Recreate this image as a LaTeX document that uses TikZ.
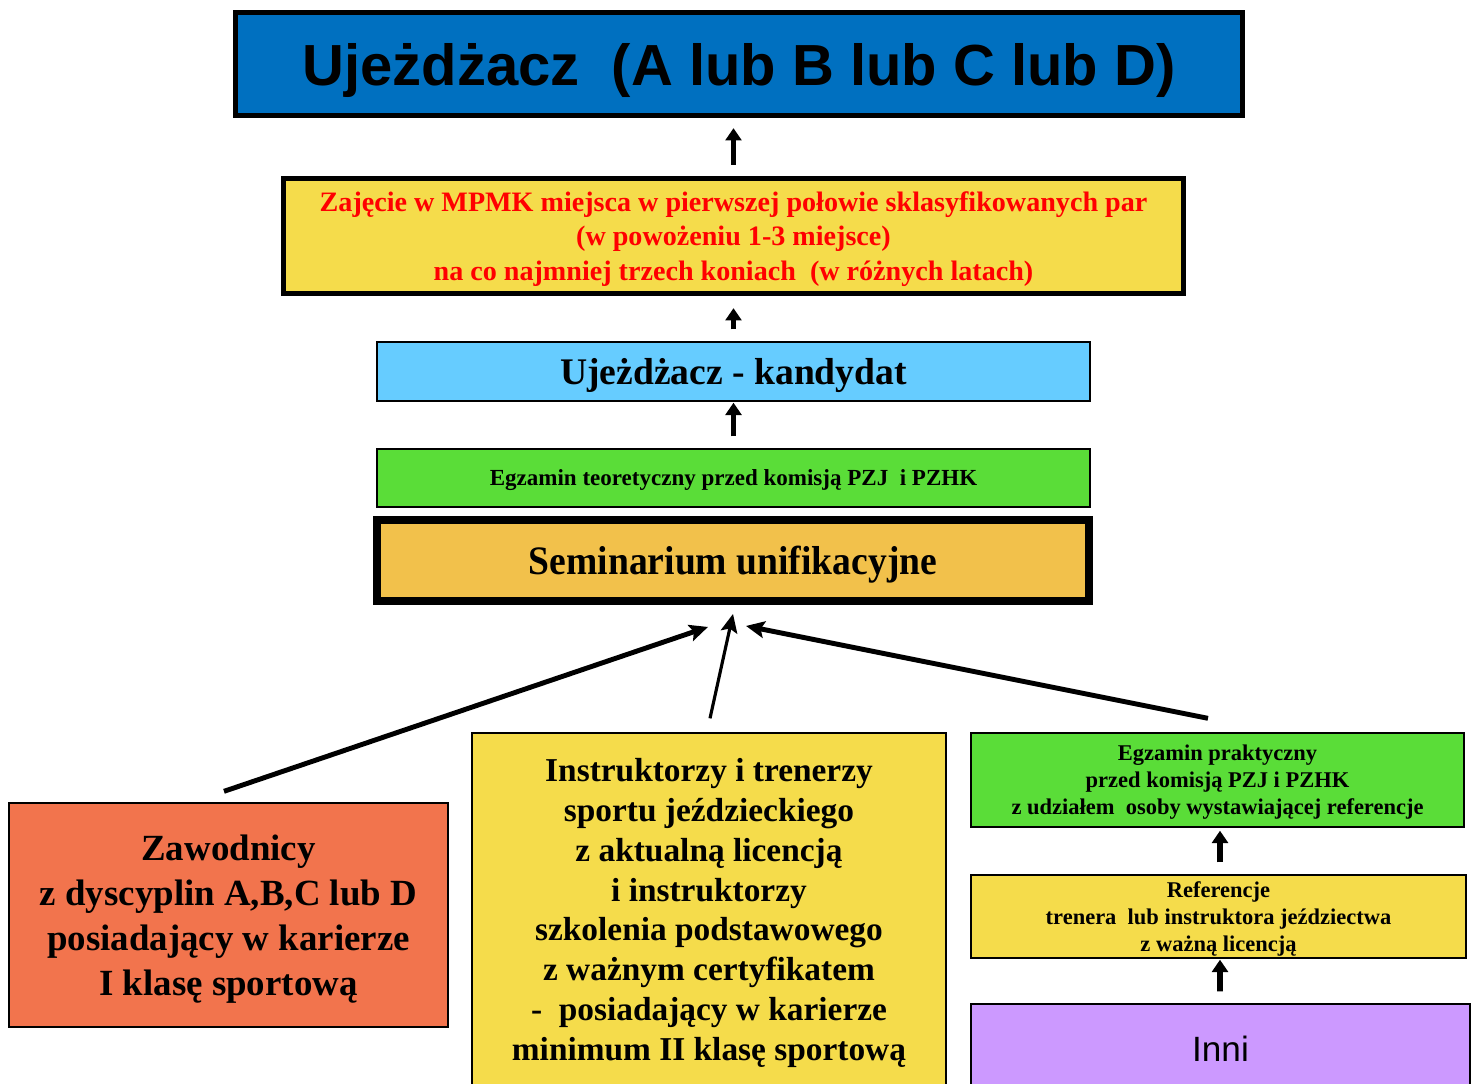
\documentclass[tikz,border=0pt]{standalone}
\usepackage{fontspec}
\setmainfont{Liberation Serif}
\newfontfamily\headfont{Liberation Sans}
\newfontfamily\narrowserif[FakeStretch=0.93]{Liberation Serif}
\usetikzlibrary{arrows.meta,calc}
\definecolor{ublue}{HTML}{0070C0}
\definecolor{uyellow}{HTML}{F5DC4B}
\definecolor{ucyan}{HTML}{66CCFF}
\definecolor{ugreen}{HTML}{5ADD38}
\definecolor{uorange}{HTML}{F2C14B}
\definecolor{ured}{HTML}{F2744D}
\definecolor{uviolet}{HTML}{CC99FF}

\begin{document}
\begin{tikzpicture}[x=0.02cm,y=-0.02cm,
    box/.style={draw, rectangle, inner sep=0pt, align=center, line width=0.8pt},
    thickbox/.style={box, line width=3pt},
    flat/.style={text depth=0pt},
    uparrow/.style={line width=3.4pt, -{Triangle[width=9pt,length=7pt]}},
    slantarrow/.style={line width=2.8pt, -{Stealth[width=9.5pt,length=10.5pt,inset=2pt]}}]
    \useasboundingbox (0,0) rectangle (1478,1083);
    % top of the ladder
    \node[thickbox, flat, fill=ublue, minimum width=20.14cm, minimum height=2.06cm,
        font=\headfont\bfseries\fontsize{33}{40}\selectfont] (rider) at (739,64)
        {Ujeżdżacz\ \ (A lub B lub C lub D)};
    \node[thickbox, flat, fill=uyellow, minimum width=18cm, minimum height=2.3cm, text=red,
        font=\bfseries\fontsize{16}{19.8}\selectfont] (mpmk) at (733.5,236)
        {Zajęcie w MPMK miejsca w pierwszej połowie sklasyfikowanych par\\
         (w powożeniu 1-3 miejsce)\\
         na co najmniej trzech koniach\ \ (w różnych latach)};
    \node[box, flat, fill=ucyan, minimum width=14.26cm, minimum height=1.18cm,
        font=\bfseries\fontsize{21.4}{25}\selectfont] (cand) at (733.5,371.5)
        {Ujeżdżacz - kandydat};
    \node[box, flat, fill=ugreen, minimum width=14.26cm, minimum height=1.16cm,
        font=\bfseries\fontsize{13.1}{15}\selectfont] (theory) at (733.5,478)
        {Egzamin teoretyczny przed komisją PZJ\ \ i PZHK};
    \node[box, flat, line width=4.5pt, fill=uorange, minimum width=14.24cm, minimum height=1.62cm,
        font=\narrowserif\bfseries\fontsize{23}{27}\selectfont] (sem) at (733,560.5)
        {Seminarium unifikacyjne};
    % three ways in
    \node[box, flat, fill=ured, minimum width=8.78cm, minimum height=4.48cm,
        font=\bfseries\fontsize{21}{25.5}\selectfont] (players) at (228.5,915)
        {Zawodnicy\\ z dyscyplin A,B,C lub D\\ posiadający w karierze\\ I klasę sportową};
    \node[box, fill=uyellow, minimum width=9.48cm, minimum height=7.2cm,
        font=\bfseries\fontsize{19}{22.7}\selectfont] (coaches) at (709,913)
        {Instruktorzy i trenerzy\\ sportu jeździeckiego\\ z aktualną licencją\\ i instruktorzy\\
         szkolenia podstawowego\\ z ważnym certyfikatem\\ -\ \ posiadający w karierze\\
         minimum II klasę sportową};
    \node[box, flat, fill=ugreen, minimum width=9.86cm, minimum height=1.88cm,
        font=\bfseries\fontsize{12.8}{15.3}\selectfont] (practice) at (1217.5,780)
        {Egzamin praktyczny\\ przed komisją PZJ i PZHK\\ z udziałem\ \ osoby wystawiającej referencje};
    \node[box, flat, fill=uyellow, minimum width=9.9cm, minimum height=1.66cm,
        font=\bfseries\fontsize{12.8}{15.3}\selectfont] (refs) at (1218.5,916.5)
        {Referencje\\ trenera\ \ lub instruktora jeździectwa\\ z ważną licencją};
    \node[box, fill=uviolet, minimum width=9.98cm, minimum height=1.78cm,
        font=\headfont\fontsize{20}{24}\selectfont] (others) at (1220.5,1048.5) {Inni};
    % arrows
    \draw[uparrow] ($(mpmk.north)+(0,-11)$) -- ($(mpmk.north |- rider.south)+(0,10)$);
    \draw[uparrow] ($(cand.north)+(0,-12)$) -- ($(mpmk.south)+(0,12)$);
    \draw[uparrow] ($(theory.north)+(0,-12)$) -- ($(cand.south)+(0,1)$);
    \draw[uparrow] ($(refs.north)+(1.5,-12)$) -- ($(practice.south)+(2.5,3)$);
    \draw[uparrow] ($(others.north)+(-0.5,-12)$) -- ($(refs.south)+(1.5,1)$);
    \draw[slantarrow] ($(players.north)+(-4.5,-11)$) -- ($(sem.south)+(-25,22)$);
    \draw[slantarrow, line width=1.8pt] ($(coaches.north)+(1,-14)$) -- ($(sem.south)+(0,9)$);
    \draw[slantarrow] ($(practice.north)+(-9.5,-14)$) -- ($(sem.south)+(13,21)$);
\end{tikzpicture}
\end{document}
